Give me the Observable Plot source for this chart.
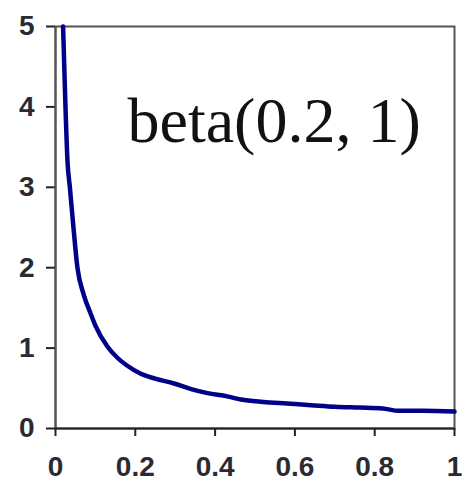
<!DOCTYPE html>
<html>
<head>
<meta charset="utf-8">
<script src="https://cdn.jsdelivr.net/npm/d3@7"></script>
<script src="https://cdn.jsdelivr.net/npm/@observablehq/plot@0.6"></script>
<style>
  html, body { margin: 0; padding: 0; background: #fff; }
  #chart svg { display: block; }
</style>
</head>
<body>
<div id="chart"></div>
<script>
// Density values
const xs = [0.019, 0.025, 0.030, 0.036, 0.045, 0.055, 0.071, 0.088, 0.10, 0.13, 0.155, 0.18, 0.214, 0.25, 0.297, 0.34, 0.381, 0.43, 0.465, 0.52, 0.58, 0.64, 0.70, 0.76, 0.82, 0.86, 0.92, 1.0];
const ys = [5.0, 4.0, 3.33, 3.0, 2.5, 2.0, 1.66, 1.43, 1.28, 1.02, 0.88, 0.78, 0.68, 0.62, 0.56, 0.49, 0.44, 0.40, 0.36, 0.33, 0.31, 0.29, 0.27, 0.26, 0.25, 0.22, 0.22, 0.21];
const xTicks = [0, 0.2, 0.4, 0.6, 0.8, 1];
const yTicks = [0, 1, 2, 3, 4, 5];
const titleText = ["beta(0.2, 1)"];

const data = xs.map((x, i) => ({x, y: ys[i]}));

const chart = Plot.plot({
  width: 462,
  height: 489,
  marginLeft: 55,
  marginRight: 8,
  marginTop: 26,
  marginBottom: 61,
  style: {fontFamily: "'Liberation Sans', Arial, sans-serif", background: "#fff", color: "#222"},
  x: {domain: [0, 1]},
  y: {domain: [0, 5]},
  marks: [
    Plot.frame({stroke: "#555", strokeWidth: 2}),
    Plot.axisX({ticks: xTicks, tickFormat: d => String(d), tickSize: 8, tickPadding: 20, fontSize: 28, fontWeight: "bold", label: null, strokeWidth: 2, fill: "#2a2a33"}),
    Plot.axisY({ticks: yTicks, tickFormat: d => String(d), tickSize: 9, tickPadding: 12, fontSize: 28, fontWeight: "bold", label: null, strokeWidth: 2, fill: "#2a2a33"}),
    Plot.ruleX([0], {stroke: "#555", strokeWidth: 2}),
    Plot.ruleY([0], {stroke: "#222", strokeWidth: 2}),
    Plot.line(data, {x: "x", y: "y", stroke: "#000088", strokeWidth: 4.5, curve: "monotone-x"}),
    Plot.text(titleText, {
      frameAnchor: "top-left", dx: 72, dy: 115,
      text: d => d, textAnchor: "start", lineAnchor: "bottom",
      fontSize: 64, fontFamily: "'Liberation Serif', 'Times New Roman', serif", fill: "#111"
    })
  ]
});
document.getElementById("chart").appendChild(chart);
</script>
</body>
</html>
